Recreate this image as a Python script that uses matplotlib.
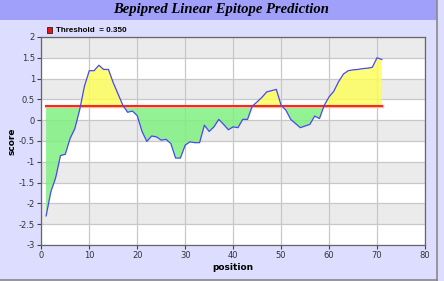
import matplotlib
matplotlib.use("Agg")
import matplotlib.pyplot as plt
from matplotlib.patches import Rectangle
from matplotlib.lines import Line2D
import numpy as np

# bepipred scores per residue position
position = list(range(1, 72))
score = [-2.30, -1.72, -1.38, -0.85, -0.82, -0.44, -0.20, 0.25, 0.82, 1.19,
         1.19, 1.32, 1.22, 1.22, 0.90, 0.63, 0.36, 0.19, 0.22, 0.11,
         -0.27, -0.51, -0.38, -0.40, -0.48, -0.46, -0.56, -0.91, -0.91, -0.60,
         -0.52, -0.54, -0.54, -0.12, -0.27, -0.16, 0.02, -0.10, -0.23, -0.16,
         -0.18, 0.02, 0.02, 0.34, 0.44, 0.55, 0.68, 0.71, 0.74, 0.36,
         0.24, 0.02, -0.08, -0.18, -0.14, -0.10, 0.10, 0.04, 0.36, 0.56,
         0.70, 0.93, 1.11, 1.19, 1.21, 1.22, 1.24, 1.25, 1.27, 1.50,
         1.46]
threshold = 0.350

xticks = [0, 10, 20, 30, 40, 50, 60, 70, 80]
yticks = [2, 1.5, 1, 0.5, 0, -0.5, -1, -1.5, -2, -2.5, -3]
ytick_labels = ["2", "1.5", "1", "0.5", "0", "-0.5", "-1", "-1.5", "-2", "-2.5", "-3"]

x = np.array(position, dtype=float)
y = np.array(score)
thr = np.full_like(x, threshold)

fig = plt.figure(figsize=(4.44, 2.81), dpi=100, facecolor="#DDDDFF")

# title band + frame
fig.patches.append(Rectangle((0, 1 - 20 / 281), 437 / 444, 20 / 281, transform=fig.transFigure,
                             facecolor="#A0A0FA", edgecolor="none", zorder=0))
fig.lines.append(Line2D([437 / 444, 437 / 444], [0, 1], transform=fig.transFigure, color="#888888", lw=1.2))
fig.lines.append(Line2D([0, 437 / 444], [1.5 / 281, 1.5 / 281], transform=fig.transFigure, color="#888888", lw=1.2))
fig.text(221 / 444, 1 - 10 / 281, "Bepipred Linear Epitope Prediction", ha="center", va="center",
         fontsize=10.5, fontweight="bold", fontstyle="italic", family="Liberation Serif")

ax = fig.add_axes([41.3 / 444, 1 - 245 / 281, (425 - 41.3) / 444, (245 - 37) / 281])
ax.set_facecolor("white")
ax.set_xlim(0, 80)
ax.set_ylim(-3, 2)

# alternating bands
for i, lo in enumerate(np.arange(-3, 2, 0.5)):
    if i % 2 == 1:
        ax.axhspan(lo, lo + 0.5, color="#EBEBEB", zorder=0, lw=0)

ax.grid(True, color="#C8C8C8", lw=0.9, zorder=0.5)
ax.set_axisbelow(True)

ax.fill_between(x, y, thr, where=y >= thr, interpolate=True, color="#FFFF55", alpha=0.8, lw=0, zorder=1)
ax.fill_between(x, y, thr, where=y <= thr, interpolate=True, color="#80F080", alpha=0.85, lw=0, zorder=1)
ax.plot(x, thr, color="#FFB0A0", lw=2.4, zorder=2)
ax.plot(x, thr, color="#EE2A1A", lw=1.4, zorder=2.1)
ax.plot(x, y, color="#4848F0", lw=0.9, zorder=3)

ax.set_xticks(xticks)
ax.set_yticks(yticks)
ax.set_yticklabels(ytick_labels)
ax.tick_params(labelsize=6, length=3, width=0.8, color="#444444", pad=1.5, labelcolor="#333333")
for s in ax.spines.values():
    s.set_color("#666666")
    s.set_linewidth(0.9)

ax.set_xlabel("position", fontsize=6.5, fontweight="bold", labelpad=2)
ax.set_ylabel("score", fontsize=6.5, fontweight="bold", labelpad=2)

# legend
fig.patches.append(Rectangle((47 / 444, 1 - 32.5 / 281), 5 / 444, 5 / 281, transform=fig.transFigure,
                             facecolor="#EE1111", edgecolor="#222222", lw=0.6))
fig.text(56 / 444, 1 - 30 / 281, "Threshold  = 0.350", ha="left", va="center",
         fontsize=5.8, fontweight="bold", family="Liberation Sans")

fig.savefig("out.png", dpi=100, facecolor=fig.get_facecolor())
